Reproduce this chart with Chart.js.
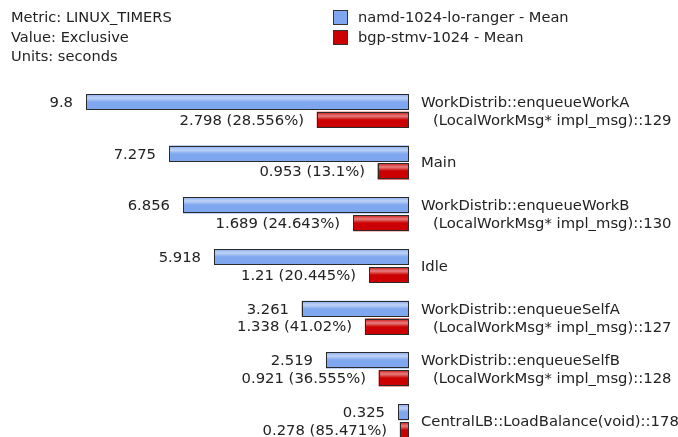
<!DOCTYPE html>
<html>
<head>
<meta charset="utf-8">
<script src="https://cdn.jsdelivr.net/npm/chart.js@4/dist/chart.umd.min.js"></script>
<style>
  html, body { margin: 0; padding: 0; background: #fff; overflow: hidden; }
  #wrap { position: relative; width: 678px; height: 460px; }
  #chart { position: absolute; left: 0; top: 0; }
  .info { position: absolute; left: 11px; top: 7px; font: 14.6px "DejaVu Sans", sans-serif; color: #222; line-height: 19.5px; }
  .legend { position: absolute; left: 333px; top: 7px; font: 14.6px "DejaVu Sans", sans-serif; color: #222; line-height: 20px; }
  .legend div { display: flex; align-items: center; }
  .sw { width: 13px; height: 13px; border: 1px solid #333; margin-right: 10px; box-sizing: content-box; }
</style>
</head>
<body>
<div id="wrap">
  <canvas id="chart" width="678" height="460"></canvas>
  <div class="info">
    <div>Metric: LINUX_TIMERS</div>
    <div>Value: Exclusive</div>
    <div>Units: seconds</div>
  </div>
  <div class="legend">
    <div><span class="sw" style="background:#7fa7ef"></span>namd-1024-lo-ranger - Mean</div>
    <div><span class="sw" style="background:#cc0000"></span>bgp-stmv-1024 - Mean</div>
  </div>
</div>
<script>
// Timer names (one entry per line of the label)
const timers = [
  ['WorkDistrib::enqueueWorkA', '(LocalWorkMsg* impl_msg)::129'],
  ['Main'],
  ['WorkDistrib::enqueueWorkB', '(LocalWorkMsg* impl_msg)::130'],
  ['Idle'],
  ['WorkDistrib::enqueueSelfA', '(LocalWorkMsg* impl_msg)::127'],
  ['WorkDistrib::enqueueSelfB', '(LocalWorkMsg* impl_msg)::128'],
  ['CentralLB::LoadBalance(void)::178']
];
// Exclusive time in seconds
const namdMean = [9.8, 7.275, 6.856, 5.918, 3.261, 2.519, 0.325];
const bgpMean = [2.798, 0.953, 1.689, 1.21, 1.338, 0.921, 0.278];
// bgp value as a share of the namd value
const bgpPercent = ['28.556', '13.1', '24.643', '20.445', '41.02', '36.555', '85.471'];

const FONT = '14.8px "DejaVu Sans", sans-serif';

// Value labels to the left of each bar, timer names to the right of the plot,
// plus a soft highlight and a crisp outline on every bar
const barDecor = {
  id: 'barDecor',
  afterDatasetsDraw(chart) {
    const ctx = chart.ctx;
    const area = chart.chartArea;
    ctx.save();
    chart.data.datasets.forEach((ds, di) => {
      const meta = chart.getDatasetMeta(di);
      meta.data.forEach((bar, i) => {
        const top = Math.round(bar.y - bar.height / 2);
        const h = Math.round(bar.height);
        const left = Math.round(Math.min(bar.x, bar.base));
        const right = Math.round(Math.max(bar.x, bar.base));
        const w = right - left;
        // highlight band
        const g = ctx.createLinearGradient(0, top, 0, top + h);
        g.addColorStop(0, 'rgba(255,255,255,0.05)');
        g.addColorStop(0.25, 'rgba(255,255,255,0.5)');
        g.addColorStop(0.5, 'rgba(255,255,255,0.0)');
        g.addColorStop(1, 'rgba(255,255,255,0.0)');
        ctx.fillStyle = g;
        ctx.fillRect(left + 1, top + 1, Math.max(0, w - 2), h - 2);
        // outline
        ctx.strokeStyle = '#2a2a2a';
        ctx.lineWidth = 1;
        ctx.strokeRect(left + 0.5, top + 0.5, w - 1, h - 1);
        // value label
        ctx.font = FONT;
        ctx.fillStyle = '#222';
        ctx.textAlign = 'right';
        ctx.textBaseline = 'middle';
        const txt = di === 0 ? String(namdMean[i]) : bgpMean[i] + ' (' + bgpPercent[i] + '%)';
        ctx.fillText(txt, left - 13, bar.y + 1);
      });
    });
    // timer names
    const m0 = chart.getDatasetMeta(0), m1 = chart.getDatasetMeta(1);
    ctx.textAlign = 'left';
    ctx.textBaseline = 'middle';
    ctx.fillStyle = '#222';
    ctx.font = FONT;
    timers.forEach((lines, i) => {
      const cy = (m0.data[i].y + m1.data[i].y) / 2;
      const x = area.right + 12;
      if (lines.length === 1) {
        ctx.fillText(lines[0], x, cy + 1);
      } else {
        ctx.fillText(lines[0], x, cy - 8);
        ctx.fillText(lines[1], x + 12, cy + 10);
      }
    });
    ctx.restore();
  }
};

new Chart(document.getElementById('chart'), {
  type: 'bar',
  data: {
    labels: timers.map(t => t.join(' ')),
    datasets: [
      { label: 'namd-1024-lo-ranger - Mean', data: namdMean, backgroundColor: '#7fa7ef', borderColor: '#2a2a2a', borderWidth: 0, borderSkipped: false },
      { label: 'bgp-stmv-1024 - Mean', data: bgpMean, backgroundColor: '#cc0000', borderColor: '#2a2a2a', borderWidth: 0, borderSkipped: false }
    ]
  },
  options: {
    indexAxis: 'y',
    responsive: false,
    animation: false,
    devicePixelRatio: 1,
    layout: { padding: { left: 86, right: 269, top: 85, bottom: 13 } },
    categoryPercentage: 0.69,
    barPercentage: 0.9,
    scales: {
      x: { display: false, reverse: true, min: 0, max: 9.8 },
      y: { display: false }
    },
    plugins: { legend: { display: false }, tooltip: { enabled: false } }
  },
  plugins: [barDecor]
});
</script>
</body>
</html>
